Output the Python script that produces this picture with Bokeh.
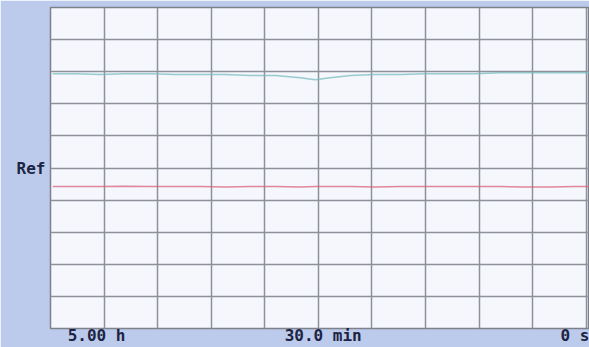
from bokeh.plotting import figure
from bokeh.models import FixedTicker
from bokeh.embed import file_html
from bokeh.resources import INLINE

# time in grid divisions (0 = left edge "5.00 h", 10 = right edge "0 s")
t = [0.04, 0.47, 0.93, 1.40, 1.87, 2.33, 2.80, 3.26, 3.73, 4.20, 4.66, 4.94,
     5.22, 5.60, 6.06, 6.53, 7.00, 7.46, 7.93, 8.40, 8.86, 9.33, 9.79, 10.06]
# upper (green/cyan) trace, vertical divisions
upper = [7.94, 7.94, 7.91, 7.94, 7.94, 7.91, 7.91, 7.91, 7.88, 7.88, 7.81, 7.75,
         7.81, 7.88, 7.91, 7.91, 7.94, 7.94, 7.94, 7.97, 7.97, 7.97, 7.97, 7.97]
# lower (red) trace, vertical divisions
lower = [4.42, 4.42, 4.42, 4.43, 4.42, 4.42, 4.42, 4.41, 4.42, 4.42, 4.41, 4.42,
         4.42, 4.42, 4.41, 4.42, 4.42, 4.42, 4.42, 4.42, 4.41, 4.41, 4.42, 4.42]

x_tick_pos = [0.86, 5.09, 9.8]
x_tick_labels = ["5.00 h", "30.0 min", "0 s"]
y_tick_pos = [5]
y_tick_labels = ["Ref"]

p = figure(width=589, height=347, output_backend="svg", toolbar_location=None,
           x_range=(0, 10.06), y_range=(0, 10),
           min_border_left=50, min_border_right=0, min_border_top=7, min_border_bottom=0)
p.border_fill_color = "#bccbeb"
p.background_fill_color = "#f5f7fd"
p.outline_line_color = "#7e808a"
p.outline_line_width = 1.5

p.line(t, upper, line_color="#78bcc0", line_width=1.5, line_alpha=0.75)
p.line(t, lower, line_color="#d8607e", line_width=1.5, line_alpha=0.75)

p.xaxis.ticker = FixedTicker(ticks=x_tick_pos)
p.xaxis.major_label_overrides = {k: v for k, v in zip(x_tick_pos, x_tick_labels)}
p.yaxis.ticker = FixedTicker(ticks=y_tick_pos)
p.yaxis.major_label_overrides = {k: v for k, v in zip(y_tick_pos, y_tick_labels)}
for ax in (p.xaxis[0], p.yaxis[0]):
    ax.axis_line_color = None
    ax.major_tick_line_color = None
    ax.minor_tick_line_color = None
    ax.major_tick_out = 0
    ax.major_tick_in = 0
    ax.minor_tick_out = 0
    ax.minor_tick_in = 0
    ax.major_label_text_font = "DejaVu Sans Mono"
    ax.major_label_text_font_style = "bold"
    ax.major_label_text_font_size = "16px"
    ax.major_label_text_color = "#1c2444"
p.xaxis.major_label_standoff = -3
p.yaxis.major_label_standoff = 5
p.yaxis.major_label_orientation = "horizontal"

p.xgrid.ticker = FixedTicker(ticks=list(range(0, 11)))
p.ygrid.ticker = FixedTicker(ticks=list(range(0, 11)))
for g in (p.xgrid[0], p.ygrid[0]):
    g.grid_line_color = "#8e909a"
    g.grid_line_width = 1.5

open("out.html", "w").write(file_html(p, INLINE))
